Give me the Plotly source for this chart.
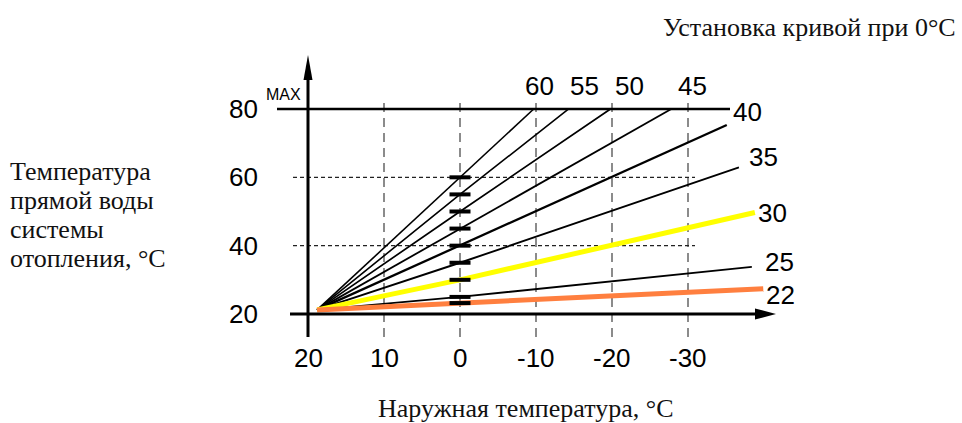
import plotly.graph_objects as go

# outdoor temperature ticks and flow temperature ticks
outdoor_ticks = [20, 10, 0, -10, -20, -30]
flow_ticks = [20, 40, 60, 80]
grid_outdoor = [10, 0, -10, -20, -30]
grid_flow = [40, 60]
max_flow = 80

# heating curves: setting at 0 deg outdoor
curve_settings = [60, 55, 50, 45, 40, 35, 30, 25, 22]
start_outdoor = 18.8
start_flow = 21.2
flow_at_zero = [60, 55, 50, 45, 40, 35, 30, 25, 23.2]
end_outdoor = [-9.7, -14.3, -19.8, -27.8, -35.1, -36.7, -38.8, -38.4, -39.9]
end_flow = [80, 80, 80, 80, 75.3, 62.9, 49.7, 33.8, 27.4]

W, H = 962, 423
# pixel mapping of the drawing
X0, XS = 308, 7.6      # px of t=20, px per degree
Y0, YS = 314, 3.417    # px of v=20, px per degree


def tx(px):
    return 20 - (px - X0) / XS


def vy(py):
    return 20 + (Y0 - py) / YS


colors = ['black'] * 9
colors[6] = '#FFFF00'
colors[8] = '#FF7F3F'
widths = [1.6, 1.6, 1.7, 1.8, 2.3, 1.9, 5, 1.9, 5]
label_shift = [(6, 6), (16, 6), (19, 6), (21, 6), (21, 13), (25, 10), (18, 0), (28, 5), (17, -6)]

num_font = dict(family='Liberation Sans, Arial, sans-serif', size=26, color='black')
serif = dict(family='Liberation Serif, Times New Roman, serif', size=26, color='#111')

fig = go.Figure()

order = [0, 1, 2, 3, 4, 5, 7, 6, 8]
for i in order:
    fig.add_trace(go.Scatter(
        x=[start_outdoor, 0, end_outdoor[i]],
        y=[start_flow, flow_at_zero[i], end_flow[i]],
        mode='lines', line=dict(color=colors[i], width=widths[i]),
        hoverinfo='skip', showlegend=False))

# setting marks on the 0 deg line
fig.add_trace(go.Scatter(
    x=[0] * len(flow_at_zero), y=flow_at_zero, mode='markers',
    marker=dict(symbol='line-ew', size=15, line=dict(color='black', width=4)),
    hoverinfo='skip', showlegend=False))

shapes = []
for t in grid_outdoor:
    shapes.append(dict(type='line', x0=t, x1=t, y0=vy(337), y1=vy(99),
                       line=dict(color='#666', width=1.5, dash='9px,6px'), layer='below'))
for v in grid_flow:
    shapes.append(dict(type='line', x0=tx(293), x1=tx(695), y0=v, y1=v,
                       line=dict(color='#222', width=1.2, dash='4px,3px'), layer='below'))
shapes.append(dict(type='line', x0=tx(277), x1=tx(730), y0=max_flow, y1=max_flow,
                   line=dict(color='black', width=2.5)))
# axes
shapes.append(dict(type='line', x0=20, x1=20, y0=vy(337), y1=vy(80), line=dict(color='black', width=3)))
shapes.append(dict(type='line', x0=tx(290), x1=tx(757), y0=20, y1=20, line=dict(color='black', width=3)))
shapes.append(dict(type='path', fillcolor='black', line=dict(width=0),
                   path=f'M {tx(303.5)},{vy(80)} L 20,{vy(55)} L {tx(312.5)},{vy(80)} Z'))
shapes.append(dict(type='path', fillcolor='black', line=dict(width=0),
                   path=f'M {tx(755)},{vy(308.5)} L {tx(776)},20 L {tx(755)},{vy(319.5)} Z'))

ann = []
for v in flow_ticks:
    ann.append(dict(x=20, y=v, text=str(v), showarrow=False, xanchor='right', yanchor='middle',
                    xshift=-48, font=num_font))
ann.append(dict(x=tx(264), y=vy(94), text='MAX', showarrow=False, xanchor='left', yanchor='middle',
                font=dict(family=num_font['family'], size=16, color='black')))
for t in outdoor_ticks:
    ann.append(dict(x=t, y=20, text=str(t), showarrow=False, xanchor='center', yanchor='middle',
                    yshift=-44, font=num_font))
for i, s in enumerate(curve_settings):
    dx, dy = label_shift[i]
    if end_flow[i] >= max_flow:
        ann.append(dict(x=end_outdoor[i], y=end_flow[i], text=str(s), showarrow=False,
                        xanchor='center', yanchor='bottom', xshift=dx, yshift=dy, font=num_font))
    else:
        ann.append(dict(x=end_outdoor[i], y=end_flow[i], text=str(s), showarrow=False,
                        xanchor='center', yanchor='middle', xshift=dx, yshift=dy, font=num_font))

ann.append(dict(xref='paper', yref='paper', x=958 / W, y=1 - 28 / H, text='Установка кривой при 0°C',
                showarrow=False, xanchor='right', yanchor='middle', font=serif))
ann.append(dict(xref='paper', yref='paper', x=525 / W, y=1 - 408 / H, text='Наружная температура, °C',
                showarrow=False, xanchor='center', yanchor='middle', font=serif))
left_lines = ['Температура', 'прямой воды', 'системы', 'отопления, °C']
for k, line in enumerate(left_lines):
    ann.append(dict(xref='paper', yref='paper', x=8 / W, y=1 - (172 + 28.7 * k) / H, text=line,
                    showarrow=False, xanchor='left', yanchor='middle', font=serif))

fig.update_layout(
    width=W, height=H, margin=dict(l=0, r=0, t=0, b=0),
    paper_bgcolor='white', plot_bgcolor='white',
    xaxis=dict(range=[tx(0), tx(W)], visible=False, fixedrange=True),
    yaxis=dict(range=[vy(H), vy(0)], visible=False, fixedrange=True),
    shapes=shapes, annotations=ann)

fig.write_html("out.html", config={'displayModeBar': False},
               post_script="document.body.style.margin='0px';")
